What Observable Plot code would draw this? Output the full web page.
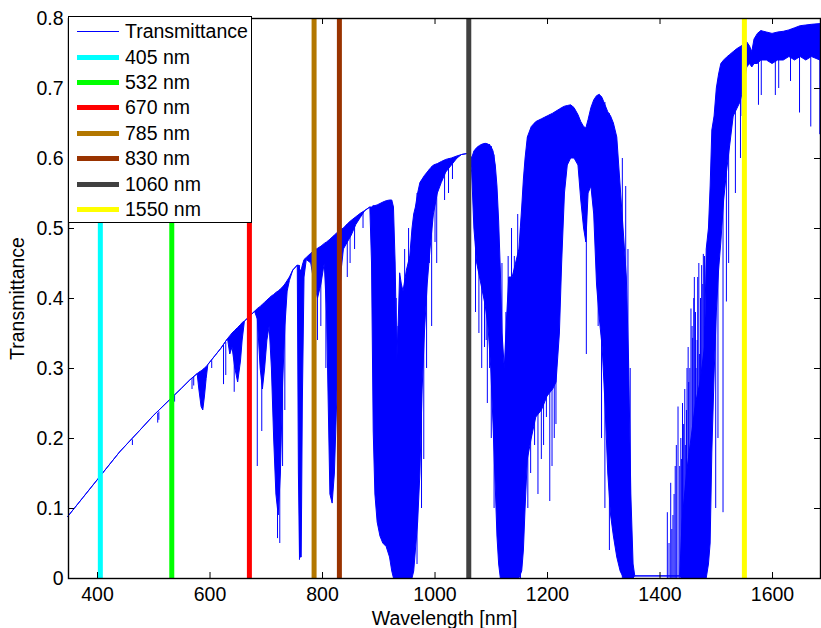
<!DOCTYPE html>
<html>
<head>
<meta charset="utf-8">
<script src="https://cdn.jsdelivr.net/npm/d3@7"></script>
<script src="https://cdn.jsdelivr.net/npm/@observablehq/plot@0.6"></script>
<style>
  body { margin: 0; background: #fff; font-family: "Liberation Sans", Arial, Helvetica, sans-serif; }
  #wrap { position: relative; width: 821px; height: 628px; }
  #legend { position: absolute; left: 68px; top: 16px; width: 184px; height: 207px; box-sizing: border-box;
            background: #fff; border: 1.5px solid #000; padding-top: 2px; }
  .row { height: 25.4px; display: flex; align-items: center; font-size: 19.5px; color: #000; white-space: nowrap; }
  .swatch { margin-left: 8px; width: 42px; margin-right: 6px; }
</style>
</head>
<body>
<div id="wrap"><div id="legend"></div></div>
<script>
// Spectrum knots: wavelength (nm) with the upper and lower edge of the dense transmittance trace
const wavelength = [
  348,375,405,440,462,476,500,532,550,565,
  578,581,585,588,591,594,597,610,620,632,
  636,640,645,650,655,658,662,670,680,685,
  690,694,698,702,706,710,714,718,722,726,
  730,734,738,742,748,756,758,760,763,765,
  768,772,780,786,792,798,804,808,811,814,
  818,822,826,830,834,838,845,852,860,868,
  876,885,888,891,894,898,903,908,914,920,
  924,927,930,933,936,938,941,944,950,956,
  960,963,966,970,974,978,982,987,992,998,
  1005,1012,1020,1030,1040,1048,1062,1066,1070,1075,
  1080,1085,1090,1095,1100,1104,1108,1111,1114,1117,
  1120,1124,1128,1132,1138,1144,1150,1155,1158,1161,
  1165,1172,1180,1190,1200,1210,1216,1222,1226,1231,
  1236,1242,1248,1255,1260,1265,1269,1273,1278,1283,
  1288,1293,1298,1303,1308,1313,1318,1324,1330,1336,
  1341,1345,1349,1353,1356,1436,1440,1448,1456,1464,1472,1480,1483,1487,1490,1493,
  1497,1501,1505,1509,1514,1519,1525,1531,1537,1543,
  1549,1555,1560,1564,1568,1574,1580,1590,1600,1610,
  1620,1630,1640,1650,1660,1670,1685
];
const upper = [
  .088,.115,.145,.180,.199,.211,.232,.257,.271,.283,
  .292,.294,.296,.298,.300,.302,.305,.318,.328,.342,
  .346,.350,.354,.358,.362,.365,.367,.373,.381,.385,
  .388,.391,.394,.397,.400,.403,.405,.408,.410,.413,
  .416,.420,.425,.430,.440,.447,.447,.440,.440,.447,
  .455,.458,.464,.468,.471,.474,.478,.480,.482,.484,
  .487,.490,.493,.496,.498,.500,.506,.511,.516,.521,
  .525,.530,.530,.532,.532,.533,.535,.537,.539,.540,
  .540,.530,.450,.310,.380,.436,.420,.410,.440,.460,
  .500,.520,.530,.550,.565,.570,.575,.580,.585,.590,
  .592,.595,.598,.600,.603,.605,.607,.600,.610,.615,
  .618,.620,.621,.620,.617,.610,.590,.560,.510,.440,
  .350,.300,.370,.430,.430,.450,.470,.530,.570,.600,
  .630,.645,.652,.656,.660,.664,.667,.670,.672,.674,
  .675,.676,.672,.662,.652,.645,.643,.655,.672,.683,
  .689,.691,.686,.676,.666,.660,.650,.630,.560,.490,
  .430,.310,.120,.020,.003,.003,.080,.150,.200,.250,.280,.330,.470,.500,.560,.640,
  .660,.700,.720,.735,.740,.744,.748,.752,.756,.759,
  .762,.766,.760,.752,.770,.778,.782,.780,.778,.780,
  .781,.783,.786,.789,.790,.791,.792
];
const lower = [
  .088,.115,.145,.180,.199,.211,.232,.257,.271,.283,
  .292,.270,.245,.240,.260,.285,.305,.318,.328,.342,
  .320,.330,.300,.280,.310,.340,.367,.373,.381,.370,
  .300,.270,.300,.340,.360,.300,.200,.120,.090,.150,
  .280,.360,.410,.425,.440,.447,.150,.030,.030,.250,
  .430,.455,.450,.420,.400,.420,.450,.380,.250,.120,
  .107,.150,.250,.380,.440,.470,.480,.490,.505,.515,
  .525,.530,.450,.210,.120,.080,.060,.050,.045,.030,
  .010,0,0,0,0,0,0,0,0,0,
  0,.010,.040,.080,.150,.270,.350,.420,.470,.520,
  .550,.565,.580,.590,.600,.605,.607,.580,.500,.450,
  .430,.410,.390,.360,.300,.220,.130,.060,.020,0,
  0,0,0,0,0,0,0,.010,.040,.100,
  .170,.200,.230,.240,.260,.270,.280,.350,.450,.550,
  .590,.600,.600,.590,.540,.500,.480,.550,.560,.520,
  .420,.370,.330,.250,.150,.090,.060,.030,.010,0,
  0,0,0,0,.003,.003,0,0,0,0,0,0,0,.020,.050,.180,
  .290,.380,.440,.480,.540,.580,.620,.660,.670,.680,
  .700,.730,.735,.730,.735,.735,.740,.740,.735,.740,
  .740,.745,.740,.745,.740,.745,.740
];

// Individual absorption lines: wavelength (nm), top and bottom of each line
const lineNm = [
  462,507,509,537,568,571,603,624,628,643,
  684,692,720,724,729,733,759,791,797,806,
  844,849,857,872,990,1000,1017,1024,1031,1091,
  1097,1177,1183,1189,1198,1204,1212,1269,
  968,976,980,985,994,1003,
  1072,1078,1083,1088,1093,1100,1105,
  1165,1170,1193,1208,1215,
  1290,1296,1302,1310,
  1333,1339,1343,1347,
  1119,1126,1130,1136,1141,1147,1152,
  931,934,946,953,
  1413,1416,1419,1421,1423,1425,1427,1429,1432,1435,
  1437,1438,1440,1442,1444,1445,1447,1448,1450,1451,
  1453,1455,1457,1458,1460,1461,1463,1464,1466,1467,
  1469,1470,1472,1474,1476,1477,1479,1480,
  1499,1503,1512,1518,1522,1534,1543,1546,
  1575,1580,1605,1611,1632,1648,1668,1684
];
const lineTop = [
  .198,.236,.238,.261,.286,.288,.311,.333,.337,.352,
  .384,.390,.410,.411,.415,.418,.447,.470,.474,.479,
  .505,.509,.514,.523,.584,.590,.597,.599,.600,.621,
  .620,.650,.653,.655,.660,.662,.665,.643,
  .550,.568,.572,.578,.588,.591,
  .612,.617,.619,.621,.620,.617,.605,
  .630,.640,.657,.663,.667,
  .690,.688,.680,.664,
  .600,.560,.470,.300,
  .450,.380,.460,.500,.460,.520,.500,
  .400,.360,.470,.500,
  .094,.050,.136,.070,.090,.120,.160,.190,.245,.160,
  .200,.170,.250,.220,.270,.190,.240,.300,.330,.280,
  .300,.385,.360,.343,.400,.430,.380,.300,.340,.430,
  .450,.320,.400,.447,.420,.463,.460,.360,
  .660,.710,.738,.743,.746,.754,.759,.760,
  .780,.782,.779,.780,.784,.788,.791,.792
];
const lineBottom = [
  .190,.222,.226,.252,.270,.275,.300,.277,.290,.266,
  .160,.210,.057,.050,.160,.240,.026,.340,.360,.300,
  .430,.450,.470,.500,.450,.480,.540,.550,.570,.340,
  .300,.190,.120,.170,.230,.110,.200,.320,
  .020,.100,.170,.300,.360,.450,
  .380,.350,.300,.330,.250,.200,.100,
  .100,.150,.190,.160,.220,
  .360,.200,.100,.040,
  0,0,0,0,
  0,0,0,0,0,0,0,
  0,0,0,0,
  0,0,0,0,0,0,0,0,0,0,
  0,0,0,0,0,0,0,0,0,0,
  0,0,0,0,0,0,0,0,0,0,
  0,0,0,0,0,0,0,0,
  .100,.200,.094,.395,.450,.550,.600,.660,
  .676,.690,.690,.700,.710,.665,.645,.634
];

// Laser wavelengths and their colours
const laserNm = [405, 532, 670, 785, 830, 1060, 1550];
const laserColor = ["#00ffff", "#00ff00", "#ff0000", "#b37700", "#993300", "#404040", "#ffff00"];

const xTicks = [400, 600, 800, 1000, 1200, 1400, 1600];
const yTicks = [0, 0.1, 0.2, 0.3, 0.4, 0.5, 0.6, 0.7, 0.8];
const seriesLabel = "Transmittance";

const spectrum = wavelength.map((x, i) => ({x, y1: lower[i], y2: upper[i]}));
const lines = lineNm.map((x, i) => ({x, y1: lineBottom[i], y2: lineTop[i]}));
const lasers = laserNm.map((nm, i) => ({nm, color: laserColor[i], label: nm + " nm"}));

const blue = "#0000ff";
const font = '"Liberation Sans", Arial, Helvetica, sans-serif';
const W = 821, H = 628, mL = 68, mR = 1, mT = 18, mB = 50, tick = 6;
const innerW = W - mL - mR, innerH = H - mT - mB;

const chart = Plot.plot({
  width: W,
  height: H,
  marginLeft: mL,
  marginRight: mR,
  marginTop: mT,
  marginBottom: mB,
  style: {fontFamily: font, fontSize: "19.5px", color: "#000", background: "#fff", overflow: "visible"},
  x: {domain: [348.4, 1685.3]},
  y: {domain: [0, 0.8]},
  color: {type: "identity"},
  marks: [
    Plot.areaY(spectrum, {x: "x", y1: "y1", y2: "y2", fill: blue, stroke: blue, strokeWidth: 1}),
    Plot.ruleX(lines, {x: "x", y1: "y1", y2: "y2", stroke: blue, strokeWidth: 1}),
    Plot.ruleX(lasers, {x: "nm", stroke: "color", strokeWidth: 5}),
    // inward tick marks on all four sides (MATLAB box style)
    Plot.ruleX(xTicks, {x: d => d, insetTop: innerH - tick, stroke: "#000", strokeWidth: 1}),
    Plot.ruleX(xTicks, {x: d => d, insetBottom: innerH - tick, stroke: "#000", strokeWidth: 1}),
    Plot.ruleY(yTicks, {y: d => d, insetRight: innerW - tick, stroke: "#000", strokeWidth: 1}),
    Plot.ruleY(yTicks, {y: d => d, insetLeft: innerW - tick, stroke: "#000", strokeWidth: 1}),
    Plot.frame({stroke: "#000", strokeWidth: 1.4}),
    Plot.axisX({ticks: xTicks, tickSize: 0, tickPadding: 9, tickFormat: d => String(d),
                label: "Wavelength [nm]", labelAnchor: "center", labelOffset: 46, labelArrow: "none"}),
    Plot.axisY({ticks: yTicks, tickSize: 0, tickPadding: 5, tickFormat: d => d === 0 ? "0" : d.toFixed(1),
                label: "Transmittance", labelAnchor: "center", labelOffset: 58, labelArrow: "none"})
  ]
});
const wrap = document.getElementById("wrap");
wrap.insertBefore(chart, wrap.firstChild);

// Legend (overlaid on the upper-left corner of the axes)
const legend = document.getElementById("legend");
const entries = [{label: seriesLabel, color: blue, width: 1}].concat(lasers.map(d => ({label: d.label, color: d.color, width: 5})));
for (const e of entries) {
  const row = document.createElement("div");
  row.className = "row";
  const sw = document.createElement("div");
  sw.className = "swatch";
  sw.style.height = e.width + "px";
  sw.style.background = e.color;
  const tx = document.createElement("span");
  tx.textContent = e.label;
  row.appendChild(sw);
  row.appendChild(tx);
  legend.appendChild(row);
}
</script>
</body>
</html>
